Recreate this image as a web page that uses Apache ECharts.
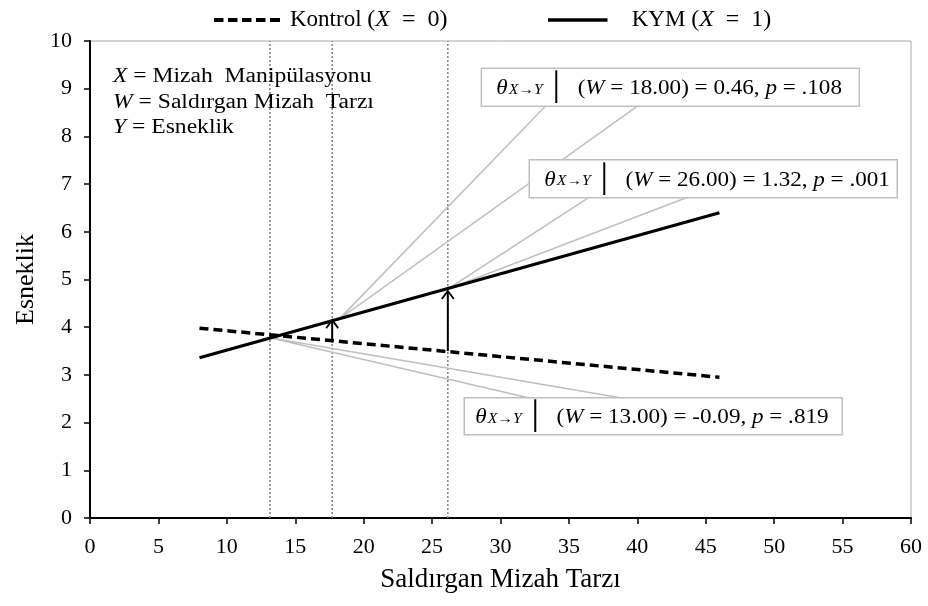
<!DOCTYPE html>
<html><head><meta charset="utf-8">
<script src="https://cdn.jsdelivr.net/npm/echarts@6/dist/echarts.min.js"></script>
<style>html,body{margin:0;padding:0;background:#fff}#c{width:928px;height:606px}</style>
</head><body><div id="c"></div>
<script>
const F = 'Liberation Serif';
// ---- data ----
const seriesNames = ['Kontrol', 'KYM'];
const legendX = ['0', '1'];
const kontrolLine = [[8, 3.98], [46, 2.95]];
const kymLine = [[8, 3.36], [46, 6.40]];
const jnPoints = [13.15, 17.7, 26.15];                 // vertical dotted lines (W values)
const arrowData = [[17.7, 3.68, 4.17], [26.15, 3.50, 4.78]]; // [W, from, to]
const calloutTips = [[18.25, 4.18], [26.15, 4.80], [13.15, 3.78]];
const calloutAnchors = [[28.6, 9.43], [32.1, 7.51], [27.35, 2.52]]; // box top-left (data coords)
const calloutW = ['18.00', '26.00', '13.00'];
const calloutEffect = ['0.46', '1.32', '-0.09'];
const calloutP = ['.108', '.001', '.819'];
const xMin = 0, xMax = 60, xStep = 5;
const yMin = 0, yMax = 10, yStep = 1;
// ---- layout/style ----
const boxSize = [[378, 38], [368, 38], [378, 37]];
const boxPad = [15, 15, 11];
const wedgeBase = [[64, 156], [59, 157], [64, 156]];
const gray = '#bfbfbf';

const chart = echarts.init(document.getElementById('c'), null, {renderer: 'canvas'});

const calloutRich = {
  th: {fontFamily: F, fontStyle: 'italic', fontSize: 22, fill: '#000'},
  sub: {fontFamily: F, fontStyle: 'italic', fontSize: 15, fill: '#000', padding: [3, 0, 0, 1]},
  bar: {fontFamily: F, fontSize: 27, fill: '#000', padding: [0, 0, 0, 3]},
  i: {fontFamily: F, fontStyle: 'italic', fontSize: 22, fill: '#000'},
  n: {fontFamily: F, fontSize: 22, fill: '#000'}
};
function calloutText(k) {
  return '{th|θ}{sub|X→Y}{bar|│}{n|  (}{i|W}{n| = ' + calloutW[k] + ') = ' + calloutEffect[k] + ', }{i|p}{n| = ' + calloutP[k] + '}';
}
function legendText(k) {
  return '{n|' + seriesNames[k] + ' }{m|(}{i|X}{m|  =  ' + legendX[k] + ')}';
}
const legendRich = {
  n: {fontFamily: F, fontSize: 23, color: '#000'},
  m: {fontFamily: F, fontSize: 24, color: '#000'},
  i: {fontFamily: F, fontSize: 24, fontStyle: 'italic', color: '#000'}
};
// legend icons: dashed and solid strokes
const dashIcon = 'path://M0,0h9.5v4h-9.5zM14,0h9.5v4h-9.5zM28,0h9.5v4h-9.5zM42,0h9.5v4h-9.5zM56,0h10v4h-10z';
const solidIcon = 'path://M0,0h68v4h-68z';

const option = {
  animation: false,
  backgroundColor: '#fff',
  grid: {left: 90, right: 17, top: 41, bottom: 88, show: true, borderColor: '#a6a6a6', borderWidth: 1},
  legend: [
    {data: [{name: seriesNames[0], icon: dashIcon}], left: 209, top: 3, itemWidth: 66, itemHeight: 4, itemGap: 0,
     formatter: () => legendText(0),
     textStyle: {fontFamily: F, fontSize: 23, color: '#000', padding: [0, 0, 0, 5], rich: legendRich}},
    {data: [{name: seriesNames[1], icon: solidIcon}], left: 543, top: 3, itemWidth: 68, itemHeight: 3.5, itemGap: 0,
     formatter: () => legendText(1),
     textStyle: {fontFamily: F, fontSize: 23, color: '#000', padding: [0, 0, 0, 15], rich: legendRich}}
  ],
  xAxis: {
    type: 'value', min: xMin, max: xMax, interval: xStep,
    name: 'Saldırgan Mizah Tarzı', nameLocation: 'middle', nameGap: 48,
    nameTextStyle: {fontFamily: F, fontSize: 27, color: '#000'},
    axisLine: {show: true, onZero: false, lineStyle: {color: '#000', width: 2}},
    axisTick: {show: true, inside: false, length: 6, lineStyle: {color: '#000', width: 1.5}},
    axisLabel: {fontFamily: F, fontSize: 22, color: '#000', margin: 18},
    splitLine: {show: false}
  },
  yAxis: {
    type: 'value', min: yMin, max: yMax, interval: yStep,
    name: 'Esneklik', nameLocation: 'middle', nameGap: 47,
    nameTextStyle: {fontFamily: F, fontSize: 26, color: '#000'},
    axisLine: {show: true, onZero: false, lineStyle: {color: '#000', width: 2}},
    axisTick: {show: true, inside: false, length: 6, lineStyle: {color: '#000', width: 1.5}},
    axisLabel: {fontFamily: F, fontSize: 22, color: '#000', margin: 18},
    splitLine: {show: false}
  },
  graphic: [{
    type: 'text', x: 113, y: 64, scaleX: 1.18, z: 10,
    style: {
      text: '{i|X} = Mizah  Manipülasyonu\n{i|W} = Saldırgan Mizah  Tarzı\n{i|Y} = Esneklik',
      fontFamily: F, fontSize: 20, lineHeight: 25.5, fill: '#000',
      rich: {i: {fontFamily: F, fontSize: 20, fontStyle: 'italic', fill: '#000', lineHeight: 25.5}}
    }
  }],
  series: [
    {
      type: 'custom', name: 'jn', silent: true, z: 1,
      data: jnPoints.map(x => [x]),
      renderItem: (params, api) => {
        const p0 = api.coord([api.value(0), yMin]);
        const p1 = api.coord([api.value(0), yMax]);
        return {type: 'line', shape: {x1: p0[0], y1: p0[1], x2: p1[0], y2: p1[1]},
          style: {stroke: '#808080', lineWidth: 1.5, lineDash: [2, 2]}};
      }
    },
    {
      type: 'custom', name: 'callouts', silent: true, z: 2,
      data: calloutTips.map((t, k) => [t[0], t[1], calloutAnchors[k][0], calloutAnchors[k][1]]),
      renderItem: (params, api) => {
        const k = params.dataIndex;
        const tip = api.coord([api.value(0), api.value(1)]);
        const a = api.coord([api.value(2), api.value(3)]);
        const w = boxSize[k][0], h = boxSize[k][1];
        const below = tip[1] > a[1] + h;
        const by = below ? a[1] + h : a[1];
        const b1 = [a[0] + wedgeBase[k][0], by], b2 = [a[0] + wedgeBase[k][1], by];
        return {type: 'group', children: [
          {type: 'polyline', shape: {points: [b1, tip, b2]}, style: {stroke: gray, lineWidth: 1.5, fill: null}},
          {type: 'rect', shape: {x: a[0], y: a[1], width: w, height: h}, style: {fill: '#fff', stroke: gray, lineWidth: 1.5}},
          {type: 'text', x: a[0] + boxPad[k], y: a[1] + h / 2 + 1, scaleX: 1.05,
           style: {text: calloutText(k), rich: calloutRich, fontFamily: F, fontSize: 22, fill: '#000', verticalAlign: 'middle', align: 'left'}}
        ]};
      }
    },
    {
      name: seriesNames[0], type: 'line', data: kontrolLine, showSymbol: false, symbol: 'none', z: 5,
      lineStyle: {color: '#000', width: 3.5, type: [9, 5]}, itemStyle: {color: '#000'}
    },
    {
      name: seriesNames[1], type: 'line', data: kymLine, showSymbol: false, symbol: 'none', z: 6,
      lineStyle: {color: '#000', width: 3.2, type: 'solid'}, itemStyle: {color: '#000'}
    },
    {
      type: 'custom', name: 'arrows', silent: true, z: 7,
      data: arrowData,
      renderItem: (params, api) => {
        const p0 = api.coord([api.value(0), api.value(1)]);
        const p1 = api.coord([api.value(0), api.value(2)]);
        return {type: 'group', children: [
          {type: 'line', shape: {x1: p0[0], y1: p0[1], x2: p1[0], y2: p1[1] + 1}, style: {stroke: '#000', lineWidth: 2}},
          {type: 'polyline', shape: {points: [[p1[0] - 6, p1[1] + 9], [p1[0], p1[1] + 1], [p1[0] + 6, p1[1] + 9]]},
           style: {stroke: '#000', lineWidth: 1.8, fill: null}}
        ]};
      }
    }
  ]
};
chart.setOption(option);
</script>
</body></html>
